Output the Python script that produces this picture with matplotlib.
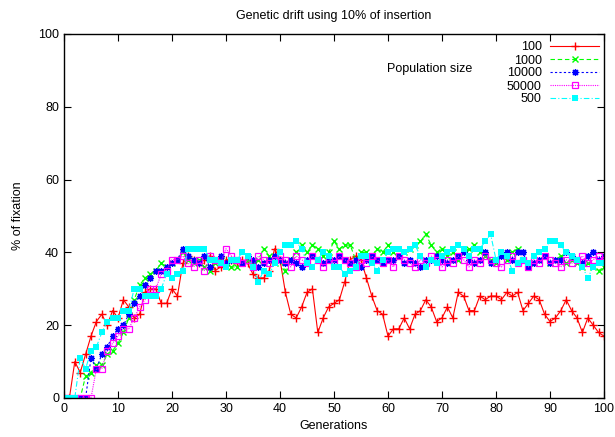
import matplotlib
matplotlib.use('Agg')
import matplotlib.pyplot as plt
import numpy as np

# % of fixation per generation, one list per population size
generations = list(range(0, 101))

pop_100 = [
    0, 0, 10, 7, 12, 17, 21, 23, 20, 24,
    22, 27, 25, 22, 23, 29, 30, 30, 26, 26,
    30, 28, 37, 39, 38, 37, 38, 39, 35, 36,
    38, 38, 37, 38, 37, 34, 33, 33, 35, 41,
    38, 29, 23, 22, 25, 29, 30, 18, 22, 25,
    26, 27, 32, 38, 39, 38, 33, 28, 24, 23,
    17, 19, 19, 22, 19, 23, 24, 27, 25, 21,
    22, 25, 22, 29, 28, 24, 24, 28, 27, 28,
    28, 27, 29, 28, 29, 24, 26, 28, 27, 23,
    21, 22, 24, 27, 24, 22, 18, 22, 20, 18,
    17]

pop_1000 = [
    0, 0, 0, 0, 6, 7, 9, 9, 12, 13,
    15, 18, 22, 27, 31, 33, 34, 35, 37, 36,
    37, 38, 40, 38, 37, 38, 36, 35, 37, 38,
    37, 36, 36, 37, 38, 37, 38, 41, 39, 37,
    38, 35, 38, 40, 42, 40, 42, 41, 39, 40,
    43, 41, 42, 42, 38, 40, 40, 39, 41, 40,
    42, 40, 39, 40, 41, 42, 43, 45, 42, 40,
    41, 39, 40, 38, 40, 41, 42, 40, 39, 38,
    37, 39, 38, 40, 41, 38, 36, 37, 38, 39,
    37, 38, 39, 37, 38, 37, 36, 37, 36, 35,
    36]

pop_10000 = [
    0, 0, 0, 0, 0, 11, 8, 12, 14, 17,
    19, 20, 23, 26, 28, 31, 33, 35, 35, 36,
    37, 38, 41, 39, 38, 37, 39, 36, 38, 39,
    37, 38, 38, 37, 39, 38, 36, 37, 38, 39,
    38, 37, 38, 37, 36, 38, 39, 38, 37, 38,
    38, 39, 38, 37, 38, 36, 38, 39, 38, 37,
    38, 38, 39, 37, 38, 37, 36, 38, 38, 39,
    38, 37, 38, 39, 40, 38, 37, 38, 40, 37,
    38, 39, 40, 38, 40, 40, 36, 37, 38, 39,
    37, 38, 38, 40, 39, 38, 37, 39, 40, 38,
    39]

pop_50000 = [
    0, 0, 0, 0, 0, 0, 8, 8, 13, 15,
    17, 19, 19, 22, 25, 27, 30, 30, 34, 35,
    38, 38, 39, 37, 36, 38, 35, 39, 38, 37,
    41, 39, 38, 37, 38, 36, 39, 38, 37, 38,
    39, 38, 36, 39, 38, 37, 39, 38, 36, 38,
    37, 39, 38, 37, 36, 38, 37, 39, 38, 37,
    38, 36, 39, 38, 37, 36, 38, 37, 39, 38,
    36, 38, 37, 39, 38, 36, 38, 37, 39, 38,
    37, 36, 38, 39, 37, 38, 36, 38, 37, 39,
    38, 37, 36, 38, 37, 38, 39, 37, 38, 39,
    38]

pop_500 = [
    0, 0, 0, 11, 8, 13, 14, 18, 21, 22,
    22, 24, 24, 30, 30, 28, 28, 28, 30, 34,
    33, 34, 35, 41, 41, 41, 41, 38, 38, 37,
    36, 38, 38, 40, 39, 36, 32, 35, 34, 37,
    40, 42, 42, 43, 41, 37, 36, 38, 40, 39,
    36, 36, 34, 35, 36, 39, 39, 37, 35, 38,
    40, 41, 41, 40, 41, 42, 39, 36, 38, 37,
    39, 40, 41, 42, 41, 39, 41, 41, 43, 45,
    38, 40, 39, 35, 37, 38, 37, 39, 40, 41,
    43, 43, 42, 40, 39, 38, 36, 33, 36, 37,
    37]


def main():
    plt.rcParams['font.family'] = ['Liberation Sans', 'DejaVu Sans']
    plt.rcParams['font.size'] = 9

    fig = plt.figure(figsize=(6.15, 4.37), dpi=100)
    ax = fig.add_axes([64 / 615, 1 - 398 / 437, 540 / 615, 364 / 437])

    lw = 0.8
    ax.plot(generations, pop_100, color='#ff0000', lw=lw, marker='+', ms=5.5, mew=1.0,
            label='100')
    ax.plot(generations, pop_1000, color='#00ff00', lw=lw, marker='x', ms=4.5, mew=1.0,
            dashes=(4, 2.5), label='1000')
    ax.plot(generations, pop_10000, color='#0000ff', lw=lw, marker=(8, 2, 0), ms=5, mew=0.9,
            dashes=(2, 2), label='10000')
    ax.plot(generations, pop_50000, color='#ff00ff', lw=lw, marker='s', ms=5, mew=0.9,
            mfc='none', dashes=(1, 1), label='50000')
    ax.plot(generations, pop_500, color='#00ffff', lw=lw, marker='s', ms=5, mew=0,
            dashes=(5, 2, 1, 2), label='500')

    ax.set_xlim(0, 100)
    ax.set_ylim(0, 100)
    ax.set_xticks(np.arange(0, 101, 10))
    ax.set_yticks(np.arange(0, 101, 20))
    ax.tick_params(direction='in', top=True, right=True, length=5, width=0.8, labelsize=9)
    for s in ax.spines.values():
        s.set_linewidth(1.0)

    ax.set_title('Genetic drift using 10% of insertion', fontsize=9, pad=11)
    ax.set_xlabel('Generations', fontsize=9, labelpad=4)
    ax.set_ylabel('% of fixation', fontsize=9, labelpad=10)

    ax.legend(loc='upper right', bbox_to_anchor=(1.005, 1.0), frameon=False,
              markerfirst=False, numpoints=1, handlelength=3.9, handletextpad=0.7,
              labelspacing=0.08, fontsize=9, borderaxespad=0.2)
    ax.text(0.598, 0.904, 'Population size', transform=ax.transAxes, fontsize=9,
            va='center', ha='left')

    fig.savefig('out.png', dpi=100)


if __name__ == "__main__":
    main()
